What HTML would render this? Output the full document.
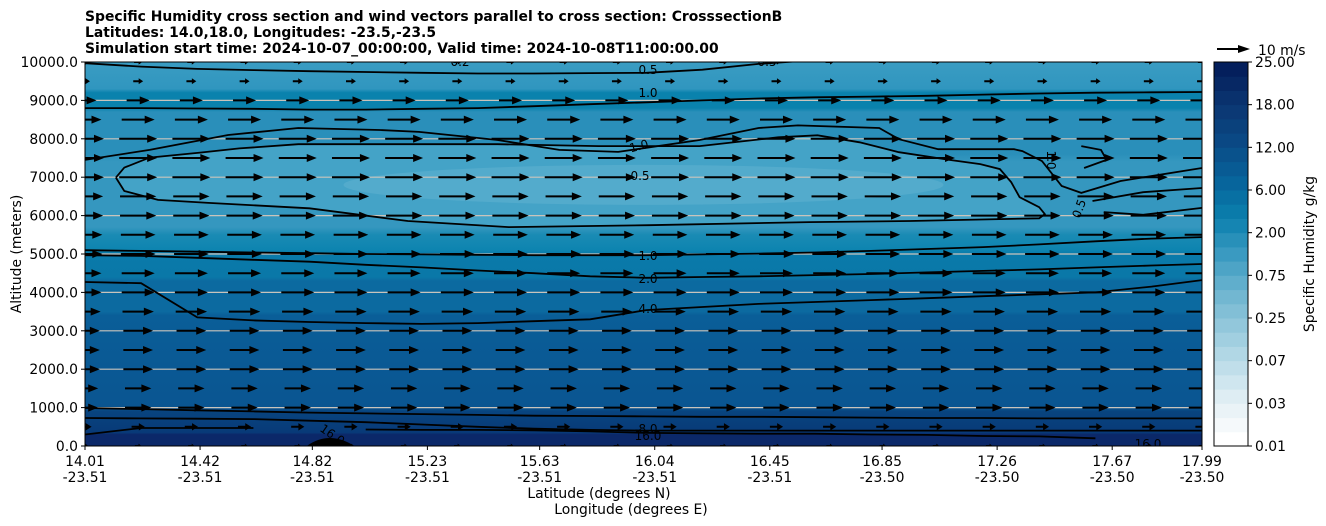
<!DOCTYPE html>
<html><head><meta charset="utf-8">
<style>
body{margin:0;background:#fff;width:1326px;height:526px;overflow:hidden;font-family:"DejaVu Sans",sans-serif}
svg{display:block}
text{font-family:"DejaVu Sans","Liberation Sans",sans-serif;fill:#000}
</style></head>
<body>
<svg id="chart" width="1326" height="526" viewBox="0 0 1326 526" xmlns="http://www.w3.org/2000/svg">
<defs>
<linearGradient id="fieldGrad" x1="0" y1="1" x2="0" y2="0">
<stop offset="0" stop-color="#0b2869"/><stop offset="0.03" stop-color="#0b2869"/>
<stop offset="0.035" stop-color="#083a78"/><stop offset="0.09" stop-color="#08447f"/>
<stop offset="0.10" stop-color="#0a5591"/><stop offset="0.34" stop-color="#0a5e98"/>
<stop offset="0.35" stop-color="#0c6aa0"/><stop offset="0.43" stop-color="#0c6aa0"/>
<stop offset="0.44" stop-color="#0a78a8"/><stop offset="0.50" stop-color="#0a7aaa"/>
<stop offset="0.51" stop-color="#0d84b0"/><stop offset="0.55" stop-color="#1a8bb4"/>
<stop offset="0.57" stop-color="#3597bf"/><stop offset="0.74" stop-color="#3597bf"/>
<stop offset="0.76" stop-color="#2a8fba"/><stop offset="0.87" stop-color="#2a8fba"/>
<stop offset="0.88" stop-color="#0a82ad"/><stop offset="0.92" stop-color="#0a82ad"/>
<stop offset="0.93" stop-color="#3096bf"/><stop offset="1" stop-color="#3a9cc2"/>
</linearGradient>
<clipPath id="plotClip"><rect x="85" y="62" width="1117" height="384"/></clipPath>
</defs>
<g id="titles" font-weight="bold" font-size="13.9">
<text x="85" y="21">Specific Humidity cross section and wind vectors parallel to cross section: CrosssectionB</text>
<text x="85" y="37">Latitudes: 14.0,18.0, Longitudes: -23.5,-23.5</text>
<text x="85" y="53">Simulation start time: 2024-10-07_00:00:00, Valid time: 2024-10-08T11:00:00.00</text>
</g>
<g clip-path="url(#plotClip)">
<rect x="85" y="62" width="1117" height="384" fill="url(#fieldGrad)"/>
<g id="fieldExtra"></g>
<g id="grid"></g>
<g id="quiver"></g>
<g id="contours"></g>
</g>
<rect x="85" y="62" width="1117" height="384" fill="none" stroke="#000" stroke-width="1"/>
<g id="yaxis"></g>
<g id="xaxis"></g>
<text transform="translate(21,254) rotate(-90)" text-anchor="middle" font-size="13.9">Altitude (meters)</text>
<text x="599" y="498" text-anchor="middle" font-size="13.9">Latitude (degrees N)</text>
<text x="631" y="514" text-anchor="middle" font-size="13.9">Longitude (degrees E)</text>
<g id="colorbar"></g>
<g>
<line x1="1217" y1="49" x2="1240" y2="49" stroke="#000" stroke-width="2"/>
<polygon points="1238,45 1250,49 1238,53" fill="#000"/>
<text x="1258" y="55" font-size="13.9">10 m/s</text>
</g>
<text transform="translate(1314,254) rotate(-90)" text-anchor="middle" font-size="13.9">Specific Humidity g/kg</text>
</svg>
<script>
const NS="http://www.w3.org/2000/svg";
const yTicks=[0,1000,2000,3000,4000,5000,6000,7000,8000,9000,10000];
const xTickLats=[14.01,14.42,14.82,15.23,15.63,16.04,16.45,16.85,17.26,17.67,17.99];
const xTickLons=["-23.51","-23.51","-23.51","-23.51","-23.51","-23.51","-23.51","-23.50","-23.50","-23.50","-23.50"];
const cbLabels=["0.01","0.03","0.07","0.25","0.75","2.00","6.00","12.00","18.00","25.00"];
const windLevels=[0,500,1000,1500,2000,2500,3000,3500,4000,4500,5000,5500,6000,6500,7000,7500,8000,8500,9000,9500,10000];
const windSpeeds=[2,4,8,8,9,9,9,9.5,10,10,10.5,10.5,11,11,11.5,11.5,11.5,10,7,3,2.5];
const sampleLats=[14.01,14.21,14.41,14.61,14.81,15.01,15.21,15.41,15.61,15.81,16.01,16.21,16.41,16.61,16.81,17.01,17.21,17.41,17.61,17.81,17.99];
const c10top=[8800,8800,8790,8780,8760,8760,8780,8800,8850,8900,8950,9000,9050,9080,9100,9120,9150,9180,9200,9210,9220];
const c05top=[9970,9880,9820,9790,9760,9740,9720,9700,9700,9710,9720,9800,9950,10050,10100,10100,10100,10100,10100,10100,10100];
const c40=[4270,4240,3350,3270,3230,3200,3180,3200,3250,3300,3540,3620,3700,3750,3800,3850,3900,3950,4000,4150,4320];
const c20=[4970,4950,4900,4850,4800,4720,4650,4570,4500,4420,4380,4400,4420,4450,4480,4520,4560,4600,4650,4700,4740];
const c10mid=[5100,5080,5060,5040,5020,5000,4990,4980,4970,4970,4970,4990,5010,5040,5080,5130,5180,5250,5330,5400,5440];
const c80a=[990,960,930,900,870,850,830,810,790,780,770,760,760,750,740,730,730,720,720,720,720];
const c80b=[730,720,710,700,660,620,560,500,450,420,400,400,400,400,400,400,400,400,400,400,400];
const c160=[300,470,470,470,-100,430,420,420,410,380,340,330,320,320,300,290,260,250,200,-100,-100];
// loops given as [lat, altitude] pairs
const loop05=[[14.12,6990],[14.15,7250],[14.24,7510],[14.42,7640],[14.56,7750],[14.77,7860],[15.13,7860],[15.48,7860],[15.84,7810],[16.20,7810],[16.48,8040],[16.62,8090],[16.77,7910],[16.91,7650],[17.09,7450],[17.20,7340],[17.27,7210],[17.31,6870],[17.34,6480],[17.41,6220],[17.43,6040],[17.41,5930],[16.95,5860],[16.59,5830],[16.02,5750],[15.52,5700],[15.16,5860],[14.81,6190],[14.45,6330],[14.27,6410],[14.15,6640],[14.12,6990]];
const c10up=[[14.01,7450],[14.24,7710],[14.52,8100],[14.77,8280],[15.06,8230],[15.20,8180],[15.48,7970],[15.70,7710],[15.91,7660],[16.20,7970],[16.41,8280],[16.55,8350],[16.84,8280],[16.91,7990],[17.05,7730],[17.32,7730],[17.35,7680],[17.42,7420],[17.49,6770],[17.56,6590],[17.70,6900],[17.99,7240]];
const c05r1=[[17.60,6380],[17.78,6610],[17.99,6720]];
const c05r2=[[17.64,6090],[17.78,6020],[17.99,6200]];
const c10loop=[[17.56,7810],[17.63,7710],[17.65,7450],[17.57,7240]];
const cbColors=[[0,[255,255,255]],[0.1,[228,240,245]],[0.25,[169,211,227]],[0.4,[108,180,207]],[0.5,[58,154,193]],[0.6,[10,127,173]],[0.7,[7,99,155]],[0.8,[10,74,133]],[0.9,[11,54,114]],[1,[4,31,92]]];

const X0=85,X1=1202,Y0=446,Y1=62;
function xs(lat){return X0+(lat-14.01)/(17.99-14.01)*(X1-X0);}
function ys(alt){return Y0-alt/10000*(Y0-Y1);}
const contours=document.getElementById('contours');
function addPath(d,name){
  const p=document.createElementNS(NS,'path');
  p.setAttribute('d',d);p.setAttribute('fill','none');p.setAttribute('stroke','#000');p.setAttribute('stroke-width','1.8');
  
  
  contours.appendChild(p);
}
function seriesPath(arr){
  let d='',pen=false;
  arr.forEach((a,i)=>{ if(a<0){pen=false;return;} d+=(pen?'L':'M')+xs(sampleLats[i]).toFixed(1)+','+ys(a).toFixed(1); pen=true;});
  return d;
}
function pairPath(arr){return arr.map((p,i)=>(i?'L':'M')+xs(p[0]).toFixed(1)+','+ys(p[1]).toFixed(1)).join('');}

const fe=document.getElementById('fieldExtra');
const core=document.createElementNS(NS,'path');
core.setAttribute('d',pairPath(loop05)+'Z');core.setAttribute('fill','#44a3c7');


fe.appendChild(core);
const core2=document.createElementNS(NS,'ellipse');
core2.setAttribute('cx',xs(16.0));core2.setAttribute('cy',ys(6800));core2.setAttribute('rx',300);core2.setAttribute('ry',20);core2.setAttribute('fill','#53abcc');


fe.appendChild(core2);
const terr=document.createElementNS(NS,'path');
terr.setAttribute('d','M'+xs(14.80)+','+Y0+' Q'+xs(14.88)+','+(Y0-16)+' '+xs(14.97)+','+Y0+'Z');terr.setAttribute('fill','#000');


fe.appendChild(terr);

const grid=document.getElementById('grid');
yTicks.forEach(t=>{ if(t===0||t===10000)return;
  const l=document.createElementNS(NS,'line');
  l.setAttribute('x1',X0);l.setAttribute('x2',X1);l.setAttribute('y1',ys(t));l.setAttribute('y2',ys(t));
  l.setAttribute('stroke','#c9c4bc');l.setAttribute('stroke-width','1.2');
  
  
  grid.appendChild(l);
});

const q=document.getElementById('quiver');
const PXPER=3.3, ncol=22;
windLevels.forEach((lev,ri)=>{
  const L=windSpeeds[ri]*PXPER, y=ys(lev);
  for(let c=0;c<ncol;c++){
    const cx=X0+c*(X1-X0)/(ncol-1);
    const x0=cx-L/2,x1=cx+L/2;
    const hl=Math.min(10,L*0.45), hw=Math.min(4,L*0.2+1);
    const a=document.createElementNS(NS,'polygon');
    a.setAttribute('points',`${x0},${y-1} ${x1-hl},${y-1} ${x1-hl},${y-hw} ${x1},${y} ${x1-hl},${y+hw} ${x1-hl},${y+1} ${x0},${y+1}`);
    a.setAttribute('fill','#000');
    
    
    q.appendChild(a);
  }
});

addPath(seriesPath(c10top),'contour-1.0-upper');
addPath(seriesPath(c05top),'contour-0.5-top');
addPath(seriesPath(c40),'contour-4.0');
addPath(seriesPath(c20),'contour-2.0');
addPath(seriesPath(c10mid),'contour-1.0-mid');
addPath(seriesPath(c80a),'contour-8.0');
addPath(seriesPath(c80b),'contour-8.0-lower');
addPath(seriesPath(c160),'contour-16.0');
addPath(pairPath(loop05),'contour-0.5-loop');
addPath(pairPath(c10up),'contour-1.0-outer');
addPath(pairPath(c05r1),'contour-0.5-right-a');
addPath(pairPath(c05r2),'contour-0.5-right-b');
addPath(pairPath(c10loop),'contour-1.0-small');
const clabels=[["0.5",648,74,0],["1.0",648,97,0],["1.0",640,150,-15],["0.5",640,180,0],["1.0",648,260,0],["2.0",648,283,0],["4.0",648,313,0],["8.0",648,433,0],["16.0",648,440,0],["16.0",330,438,35],["16.0",1148,448,0],["0.5",1083,210,-70],["1.0",1047,160,90],["0.2",460,66,0],["0.5",767,66,0]];
clabels.forEach(c=>{
  const t=document.createElementNS(NS,'text');
  t.setAttribute('transform',`translate(${c[1]},${c[2]}) rotate(${c[3]})`);
  t.setAttribute('text-anchor','middle');t.setAttribute('font-size','12');
  t.textContent=c[0];
  
  
  contours.appendChild(t);
});

const ya=document.getElementById('yaxis');
yTicks.forEach(t=>{
  const y=ys(t);
  const l=document.createElementNS(NS,'line');
  l.setAttribute('x1',X0-4);l.setAttribute('x2',X0);l.setAttribute('y1',y);l.setAttribute('y2',y);l.setAttribute('stroke','#000');
  
  
  ya.appendChild(l);
  const tx=document.createElementNS(NS,'text');
  tx.setAttribute('x',X0-7);tx.setAttribute('y',y+5);tx.setAttribute('text-anchor','end');tx.setAttribute('font-size','13.9');
  tx.textContent=t.toFixed(1);
  
  
  ya.appendChild(tx);
});
const xa=document.getElementById('xaxis');
xTickLats.forEach((lat,i)=>{
  const x=xs(lat);
  const l=document.createElementNS(NS,'line');
  l.setAttribute('x1',x);l.setAttribute('x2',x);l.setAttribute('y1',Y0);l.setAttribute('y2',Y0+4);l.setAttribute('stroke','#000');
  
  
  xa.appendChild(l);
  [lat.toFixed(2),xTickLons[i]].forEach((s,k)=>{
    const tx=document.createElementNS(NS,'text');
    tx.setAttribute('x',x);tx.setAttribute('y',Y0+20+k*16);tx.setAttribute('text-anchor','middle');tx.setAttribute('font-size','13.9');
    tx.textContent=s;
    
    
    xa.appendChild(tx);
  });
});
const cb=document.getElementById('colorbar');
const CBX=1214,CBW=34,nb=27;
function col(f){
  for(let i=1;i<cbColors.length;i++){ if(f<=cbColors[i][0]){
    const a=cbColors[i-1],b=cbColors[i],t=(f-a[0])/(b[0]-a[0]);
    return 'rgb('+a[1].map((v,k)=>Math.round(v+(b[1][k]-v)*t)).join(',')+')';}}
  return 'rgb(4,31,92)';
}
for(let i=0;i<nb;i++){
  const h=(Y0-Y1)/nb;
  const r=document.createElementNS(NS,'rect');
  r.setAttribute('x',CBX);r.setAttribute('width',CBW);r.setAttribute('y',Y0-(i+1)*h);r.setAttribute('height',h+0.5);
  r.setAttribute('fill',col(i/(nb-1)));
  
  
  cb.appendChild(r);
}
const fr=document.createElementNS(NS,'rect');
fr.setAttribute('x',CBX);fr.setAttribute('y',Y1);fr.setAttribute('width',CBW);fr.setAttribute('height',Y0-Y1);fr.setAttribute('fill','none');fr.setAttribute('stroke','#000');


cb.appendChild(fr);
cbLabels.forEach((s,i)=>{
  const y=Y0-i*(Y0-Y1)/(cbLabels.length-1);
  const l=document.createElementNS(NS,'line');
  l.setAttribute('x1',CBX+CBW);l.setAttribute('x2',CBX+CBW+4);l.setAttribute('y1',y);l.setAttribute('y2',y);l.setAttribute('stroke','#000');
  
  
  cb.appendChild(l);
  const tx=document.createElementNS(NS,'text');
  tx.setAttribute('x',CBX+CBW+7);tx.setAttribute('y',y+5);tx.setAttribute('font-size','13.9');
  tx.textContent=s;
  
  
  cb.appendChild(tx);
});
</script>
</body></html>
